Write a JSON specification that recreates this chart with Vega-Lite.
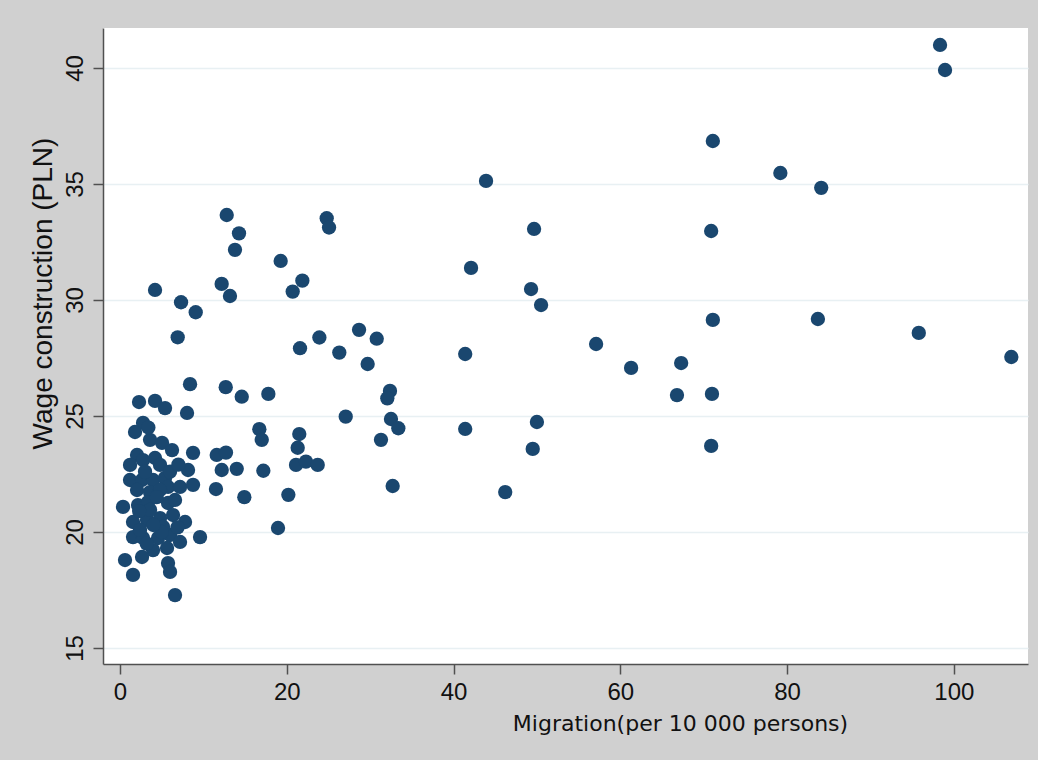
{
  "$schema": "https://vega.github.io/schema/vega-lite/v6.json",
  "width": 925,
  "height": 636,
  "autosize": {"type": "none"},
  "padding": {"left": 103, "top": 28, "right": 10, "bottom": 96},
  "background": "#d0d0d0",
  "config": {"view": {"fill": "white", "stroke": null}},
  "data": {"values": [
    {"m": 98.35, "w": 40.99}, {"m": 98.95, "w": 39.91}, {"m": 71.1, "w": 36.85}, {"m": 79.2, "w": 35.47},
    {"m": 84.1, "w": 34.83}, {"m": 43.9, "w": 35.13}, {"m": 70.9, "w": 32.97}, {"m": 49.66, "w": 33.06},
    {"m": 42.1, "w": 31.38}, {"m": 49.3, "w": 30.47}, {"m": 50.5, "w": 29.78}, {"m": 71.1, "w": 29.14},
    {"m": 83.7, "w": 29.18}, {"m": 95.8, "w": 28.58}, {"m": 106.9, "w": 27.54}, {"m": 57.1, "w": 28.1},
    {"m": 61.3, "w": 27.07}, {"m": 41.4, "w": 27.67}, {"m": 67.3, "w": 27.28}, {"m": 66.8, "w": 25.9},
    {"m": 71.0, "w": 25.95}, {"m": 70.9, "w": 23.71}, {"m": 41.4, "w": 24.44}, {"m": 50.0, "w": 24.74},
    {"m": 49.5, "w": 23.58}, {"m": 46.2, "w": 21.72},
    {"m": 12.8, "w": 33.66}, {"m": 14.27, "w": 32.87}, {"m": 13.79, "w": 32.16}, {"m": 19.27, "w": 31.68},
    {"m": 24.79, "w": 33.52}, {"m": 25.07, "w": 33.12}, {"m": 21.87, "w": 30.83}, {"m": 20.71, "w": 30.36},
    {"m": 12.19, "w": 30.69}, {"m": 13.19, "w": 30.17}, {"m": 4.2, "w": 30.43}, {"m": 7.32, "w": 29.9},
    {"m": 9.08, "w": 29.47}, {"m": 6.92, "w": 28.39}, {"m": 21.59, "w": 27.92}, {"m": 23.91, "w": 28.38},
    {"m": 26.3, "w": 27.73}, {"m": 28.67, "w": 28.71}, {"m": 30.79, "w": 28.33}, {"m": 29.7, "w": 27.24},
    {"m": 8.4, "w": 26.37}, {"m": 12.68, "w": 26.24}, {"m": 14.6, "w": 25.83}, {"m": 17.79, "w": 25.95},
    {"m": 32.38, "w": 26.08}, {"m": 32.06, "w": 25.76}, {"m": 27.07, "w": 24.97}, {"m": 32.5, "w": 24.87},
    {"m": 33.38, "w": 24.47}, {"m": 31.3, "w": 23.97}, {"m": 16.71, "w": 24.43}, {"m": 17.0, "w": 23.97},
    {"m": 21.5, "w": 24.22}, {"m": 21.31, "w": 23.63}, {"m": 11.6, "w": 23.32}, {"m": 12.71, "w": 23.42},
    {"m": 12.2, "w": 22.67}, {"m": 14.0, "w": 22.72}, {"m": 17.19, "w": 22.64}, {"m": 21.11, "w": 22.89},
    {"m": 22.3, "w": 23.03}, {"m": 23.71, "w": 22.89}, {"m": 11.51, "w": 21.85}, {"m": 14.91, "w": 21.5},
    {"m": 20.19, "w": 21.6}, {"m": 32.7, "w": 21.98}, {"m": 18.95, "w": 20.17},
    {"m": 2.28, "w": 25.6}, {"m": 4.2, "w": 25.65}, {"m": 5.4, "w": 25.34}, {"m": 8.04, "w": 25.13},
    {"m": 2.76, "w": 24.7}, {"m": 1.8, "w": 24.31}, {"m": 3.6, "w": 23.97}, {"m": 5.04, "w": 23.84},
    {"m": 6.24, "w": 23.53}, {"m": 8.76, "w": 23.41}, {"m": 2.04, "w": 23.32}, {"m": 2.76, "w": 23.1},
    {"m": 4.2, "w": 23.19}, {"m": 4.8, "w": 22.89}, {"m": 8.16, "w": 22.67}, {"m": 1.2, "w": 22.24},
    {"m": 2.64, "w": 22.24}, {"m": 3.96, "w": 22.24}, {"m": 5.4, "w": 22.33}, {"m": 5.76, "w": 21.94},
    {"m": 7.2, "w": 21.94}, {"m": 8.76, "w": 22.03}, {"m": 2.04, "w": 21.81}, {"m": 3.6, "w": 21.72},
    {"m": 4.8, "w": 21.81}, {"m": 0.36, "w": 21.08}, {"m": 2.16, "w": 21.16}, {"m": 3.36, "w": 21.29},
    {"m": 5.76, "w": 21.25}, {"m": 1.56, "w": 20.43}, {"m": 3.24, "w": 20.52}, {"m": 4.8, "w": 20.6},
    {"m": 6.36, "w": 20.73}, {"m": 7.8, "w": 20.43}, {"m": 9.6, "w": 19.78}, {"m": 1.56, "w": 19.78},
    {"m": 2.76, "w": 19.74}, {"m": 4.56, "w": 19.74}, {"m": 6.0, "w": 19.87}, {"m": 7.2, "w": 19.57},
    {"m": 3.96, "w": 19.22}, {"m": 5.64, "w": 19.31}, {"m": 0.6, "w": 18.79}, {"m": 2.64, "w": 18.92},
    {"m": 5.76, "w": 18.66}, {"m": 1.56, "w": 18.15}, {"m": 6.0, "w": 18.28}, {"m": 6.6, "w": 17.28},
    {"m": 3.6, "w": 20.95}, {"m": 5.16, "w": 20.22}, {"m": 2.4, "w": 20.09}, {"m": 6.6, "w": 21.38},
    {"m": 1.2, "w": 22.89}, {"m": 3.0, "w": 22.6}, {"m": 4.4, "w": 21.5}, {"m": 6.0, "w": 22.6},
    {"m": 5.0, "w": 20.0}, {"m": 3.2, "w": 19.5}, {"m": 4.0, "w": 20.3}, {"m": 6.9, "w": 20.2},
    {"m": 2.3, "w": 20.9}, {"m": 7.0, "w": 22.9}, {"m": 3.4, "w": 24.5}
  ]},
  "mark": {"type": "point", "filled": true, "size": 205, "color": "#1a476f", "opacity": 1, "strokeWidth": 0},
  "encoding": {
    "x": {
      "field": "m", "type": "quantitative",
      "scale": {"domain": [-2.04, 108.9], "nice": false, "zero": false},
      "axis": {
        "values": [0, 20, 40, 60, 80, 100], "grid": false,
        "domainColor": "#505050", "domainWidth": 1.5, "tickColor": "#505050", "tickWidth": 1.5, "tickSize": 10,
        "labelFont": "Liberation Sans", "labelFontSize": 24, "labelColor": "#111", "labelPadding": 6,
        "title": "Migration(per 10 000 persons)", "titleFont": "DejaVu Sans", "titleFontSize": 22,
        "titleFontWeight": "normal", "titleColor": "#111", "titleX": 577, "titleY": 66,
        "titleBaseline": "alphabetic", "titleAlign": "center"
      }
    },
    "y": {
      "field": "w", "type": "quantitative",
      "scale": {"domain": [14.31, 41.72], "nice": false, "zero": false},
      "axis": {
        "values": [15, 20, 25, 30, 35, 40], "grid": true, "gridColor": "#e8f0f3", "gridWidth": 1.5,
        "domainColor": "#505050", "domainWidth": 1.5, "tickColor": "#505050", "tickWidth": 1.5, "tickSize": 10,
        "labelFont": "Liberation Sans", "labelFontSize": 24, "labelColor": "#111", "labelAngle": 270,
        "labelAlign": "center", "labelBaseline": "alphabetic", "labelPadding": 11,
        "title": "Wage construction (PLN)", "titleFont": "Liberation Sans", "titleFontSize": 28,
        "titleFontWeight": "normal", "titleColor": "#111", "titleAngle": 270, "titleX": -52, "titleY": 265,
        "titleBaseline": "alphabetic", "titleAlign": "center"
      }
    }
  }
}
